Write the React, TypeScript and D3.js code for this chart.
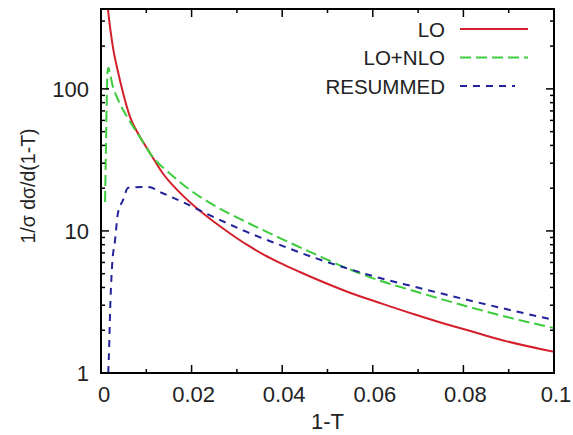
import React from 'react'
import * as d3 from 'd3'

// values (x = 1-T, y = 1/σ dσ/d(1-T))
const loX = [0.0013, 0.00155, 0.00265, 0.00375, 0.00486, 0.0064, 0.0086, 0.0108, 0.0135, 0.0174, 0.0219, 0.0247, 0.0285, 0.0322, 0.0358, 0.0395, 0.0439, 0.0477, 0.0545, 0.062, 0.0693, 0.0753, 0.0821, 0.0896, 0.1]
const loY = [430, 360, 195, 132, 94, 63.5, 46, 35.4, 25.8, 18.6, 13.8, 11.75, 9.6, 8.0, 6.85, 5.96, 5.14, 4.55, 3.72, 3.08, 2.58, 2.25, 1.95, 1.67, 1.41]

const nloX = [0.0009, 0.0011, 0.0013, 0.00155, 0.00265, 0.00375, 0.0057, 0.008, 0.0114, 0.0152, 0.0196, 0.0247, 0.0322, 0.0395, 0.0477, 0.0545, 0.062, 0.0693, 0.0753, 0.0821, 0.0896, 0.1]
const nloY = [16, 40, 95, 141, 103, 84, 64, 49, 33.2, 25.4, 19.5, 15.3, 11.5, 8.91, 6.76, 5.43, 4.42, 3.76, 3.30, 2.87, 2.48, 2.07]

const resX = [0.0016, 0.0018, 0.002, 0.00243, 0.0031, 0.00375, 0.00486, 0.006, 0.0104, 0.0135, 0.0174, 0.0247, 0.0322, 0.0395, 0.0477, 0.0545, 0.062, 0.0693, 0.0744, 0.0821, 0.0896, 0.1]
const resY = [1.0, 1.52, 2.65, 5.58, 8.6, 13.4, 16.5, 20.1, 20.4, 18.5, 16.3, 12.6, 9.84, 7.97, 6.38, 5.43, 4.62, 4.04, 3.68, 3.2, 2.81, 2.36]

const xTicks = [0, 0.02, 0.04, 0.06, 0.08, 0.1]
const xTickLabels = ['0', '0.02', '0.04', '0.06', '0.08', '0.1']
const xMinorTicks = [0.01, 0.03, 0.05, 0.07, 0.09]
const yTicks = [1, 10, 100]
const yTickLabels = ['1', '10', '100']

const seriesNames = ['LO', 'LO+NLO', 'RESUMMED']
const seriesColors = ['#d4202c', '#3ccc3c', '#22229a']
const seriesDash = ['none', '11,5', '7,6']

const W = 573
const H = 435
const margin = { top: 9, right: 19, bottom: 62, left: 101 }
const FONT = '"Liberation Sans", Arial, Helvetica, sans-serif'

export default function App() {
  const iw = W - margin.left - margin.right
  const ih = H - margin.top - margin.bottom

  const x = d3.scaleLinear().domain([0, 0.1]).range([0, iw])
  const y = d3.scaleLog().domain([1, 365]).range([ih, 0])

  const line = d3
    .line<[number, number]>()
    .x((d) => x(d[0]))
    .y((d) => y(d[1]))
    .curve(d3.curveMonotoneX)

  const series = [
    loX.map((v, i) => [v, loY[i]] as [number, number]),
    nloX.map((v, i) => [v, nloY[i]] as [number, number]),
    resX.map((v, i) => [v, resY[i]] as [number, number]),
  ]

  // minor log ticks 2..9 in each decade, inside the domain
  const yMinor: number[] = []
  for (let dec = 1; dec <= 100; dec *= 10) {
    for (let k = 2; k <= 9; k++) {
      const v = k * dec
      if (v < 365) yMinor.push(v)
    }
  }

  return (
    <svg width={W} height={H} style={{ position: 'absolute', left: 0, top: 0, background: '#fff' }}>
      <defs>
        <clipPath id="plot-clip">
          <rect x={0} y={0} width={iw} height={ih} />
        </clipPath>
      </defs>
      <g transform={`translate(${margin.left},${margin.top})`} fontFamily={FONT}>
        {/* curves */}
        <g clipPath="url(#plot-clip)">
          {series.map((s, i) => (
            <path
              key={seriesNames[i]}
              d={line(s) ?? ''}
              fill="none"
              stroke={seriesColors[i]}
              strokeWidth={2}
              strokeDasharray={seriesDash[i]}
            />
          ))}
        </g>

        {/* x ticks, bottom and top */}
        {xTicks.map((t) => (
          <g key={'xt' + t}>
            <line x1={x(t)} x2={x(t)} y1={ih} y2={ih - 8} stroke="#000" strokeWidth={1.5} />
            <line x1={x(t)} x2={x(t)} y1={0} y2={8} stroke="#000" strokeWidth={1.5} />
          </g>
        ))}
        {xMinorTicks.map((t) => (
          <g key={'xm' + t}>
            <line x1={x(t)} x2={x(t)} y1={ih} y2={ih - 4} stroke="#000" strokeWidth={1.5} />
            <line x1={x(t)} x2={x(t)} y1={0} y2={4} stroke="#000" strokeWidth={1.5} />
          </g>
        ))}
        {xTicks.map((t, i) => (
          <text key={'xl' + t} x={x(t) + (i === 0 ? 3 : 2)} y={ih + 29} textAnchor="middle" fontSize={22} fill="#222">
            {xTickLabels[i]}
          </text>
        ))}

        {/* y ticks, left and right */}
        {yTicks.map((t) => (
          <g key={'yt' + t}>
            <line x1={0} x2={8} y1={y(t)} y2={y(t)} stroke="#000" strokeWidth={1.5} />
            <line x1={iw} x2={iw - 8} y1={y(t)} y2={y(t)} stroke="#000" strokeWidth={1.5} />
          </g>
        ))}
        {yMinor.map((t) => (
          <g key={'ym' + t}>
            <line x1={0} x2={4} y1={y(t)} y2={y(t)} stroke="#000" strokeWidth={1.5} />
            <line x1={iw} x2={iw - 4} y1={y(t)} y2={y(t)} stroke="#000" strokeWidth={1.5} />
          </g>
        ))}
        {yTicks.map((t, i) => (
          <text key={'yl' + t} x={-12} y={y(t) + 8} textAnchor="end" fontSize={22} fill="#222">
            {yTickLabels[i]}
          </text>
        ))}

        {/* frame */}
        <rect x={0} y={0} width={iw} height={ih} fill="none" stroke="#000" strokeWidth={2} />

        {/* axis titles */}
        <text x={iw / 2} y={ih + 56} textAnchor="middle" fontSize={22} fill="#222">
          1-T
        </text>
        <text
          transform={`translate(${28 - margin.left},${186 - margin.top}) rotate(-90)`}
          textAnchor="middle"
          dominantBaseline="central"
          fontSize={19.5}
          fill="#222"
        >
          1/σ dσ/d(1-T)
        </text>

        {/* legend */}
        {seriesNames.map((name, i) => {
          const ly = 29 + i * 28.5 - margin.top
          return (
            <g key={'lg' + name}>
              <text x={445 - margin.left} y={ly + 7.5} textAnchor="end" fontSize={20.5} fill="#222">
                {name}
              </text>
              <line
                x1={460 - margin.left}
                x2={(i === 2 ? 515 : 528) - margin.left}
                y1={ly}
                y2={ly}
                stroke={seriesColors[i]}
                strokeWidth={2}
                strokeDasharray={seriesDash[i]}
              />
            </g>
          )
        })}
      </g>
    </svg>
  )
}
